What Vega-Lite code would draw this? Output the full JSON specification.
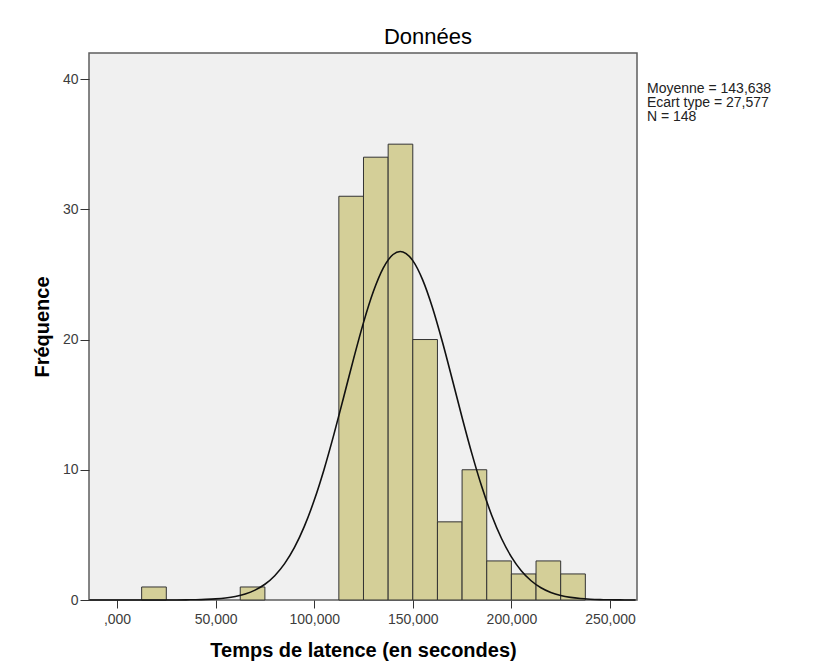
{
  "$schema": "https://vega.github.io/schema/vega-lite/v6.json",
  "width": 548,
  "height": 547,
  "autosize": {"type": "none"},
  "padding": {"left": 89, "top": 53, "right": 199, "bottom": 71},
  "background": "white",
  "config": {
    "font": "Liberation Sans",
    "view": {"stroke": "#5e5e5e", "strokeWidth": 1.5, "fill": "#f0f0f0"}
  },
  "title": {
    "text": "Données",
    "anchor": "middle",
    "frame": "group",
    "dx": 65,
    "dy": 19,
    "offset": 6,
    "baseline": "alphabetic",
    "fontSize": 22,
    "fontWeight": "normal",
    "color": "#000000",
    "font": "Liberation Sans"
  },
  "datasets": {
    "bins": [
      {"lo": 12500, "hi": 25000, "n": 1},
      {"lo": 62500, "hi": 75000, "n": 1},
      {"lo": 112500, "hi": 125000, "n": 31},
      {"lo": 125000, "hi": 137500, "n": 34},
      {"lo": 137500, "hi": 150000, "n": 35},
      {"lo": 150000, "hi": 162500, "n": 20},
      {"lo": 162500, "hi": 175000, "n": 6},
      {"lo": 175000, "hi": 187500, "n": 10},
      {"lo": 187500, "hi": 200000, "n": 3},
      {"lo": 200000, "hi": 212500, "n": 2},
      {"lo": 212500, "hi": 225000, "n": 3},
      {"lo": 225000, "hi": 237500, "n": 2}
    ],
    "curve": [
      {"x": -14000, "y": 0},
      {"x": 0, "y": 0},
      {"x": 10000, "y": 0},
      {"x": 20000, "y": 0.001},
      {"x": 30000, "y": 0.0055},
      {"x": 35000, "y": 0.012},
      {"x": 40000, "y": 0.023},
      {"x": 45000, "y": 0.045},
      {"x": 50000, "y": 0.084},
      {"x": 55000, "y": 0.153},
      {"x": 60000, "y": 0.269},
      {"x": 65000, "y": 0.459},
      {"x": 70000, "y": 0.757},
      {"x": 75000, "y": 1.209},
      {"x": 80000, "y": 1.867},
      {"x": 85000, "y": 2.79},
      {"x": 90000, "y": 4.037},
      {"x": 95000, "y": 5.65},
      {"x": 100000, "y": 7.652},
      {"x": 105000, "y": 10.028},
      {"x": 110000, "y": 12.717},
      {"x": 115000, "y": 15.606},
      {"x": 120000, "y": 18.533},
      {"x": 125000, "y": 21.297},
      {"x": 130000, "y": 23.68},
      {"x": 135000, "y": 25.479},
      {"x": 140000, "y": 26.528},
      {"x": 143638, "y": 26.763},
      {"x": 145000, "y": 26.727},
      {"x": 150000, "y": 26.057},
      {"x": 155000, "y": 24.582},
      {"x": 160000, "y": 22.441},
      {"x": 165000, "y": 19.824},
      {"x": 170000, "y": 16.945},
      {"x": 175000, "y": 14.016},
      {"x": 180000, "y": 11.219},
      {"x": 185000, "y": 8.69},
      {"x": 190000, "y": 6.512},
      {"x": 195000, "y": 4.723},
      {"x": 200000, "y": 3.315},
      {"x": 205000, "y": 2.251},
      {"x": 210000, "y": 1.479},
      {"x": 215000, "y": 0.941},
      {"x": 220000, "y": 0.579},
      {"x": 225000, "y": 0.345},
      {"x": 230000, "y": 0.199},
      {"x": 235000, "y": 0.111},
      {"x": 240000, "y": 0.06},
      {"x": 245000, "y": 0.031},
      {"x": 250000, "y": 0.016},
      {"x": 255000, "y": 0.0077},
      {"x": 260000, "y": 0.0036},
      {"x": 263000, "y": 0.002}
    ],
    "stats": [
      {"label": "Moyenne = 143,638\nEcart type = 27,577\nN = 148"}
    ]
  },
  "layer": [
    {
      "data": {"name": "bins"},
      "mark": {"type": "bar", "fill": "#d4cf98", "stroke": "#333333", "strokeWidth": 1},
      "encoding": {
        "x": {
          "field": "lo",
          "type": "quantitative",
          "scale": {"domain": [-14200, 263700], "nice": false, "zero": false},
          "axis": {
            "values": [0, 50000, 100000, 150000, 200000, 250000],
            "labelExpr": "datum.value == 0 ? ',000' : format(datum.value, ',')",
            "tickSize": 8,
            "tickColor": "#333333",
            "tickWidth": 1,
            "domain": false,
            "grid": false,
            "labelFontSize": 14,
            "labelColor": "#3c3c3c",
            "labelPadding": 4,
            "labelFlush": false,
            "labelOverlap": false,
            "title": "Temps de latence (en secondes)",
            "titleFontSize": 20,
            "titleFontWeight": "bold",
            "titleColor": "#000000",
            "titlePadding": 14
          }
        },
        "x2": {"field": "hi"},
        "y": {
          "field": "n",
          "type": "quantitative",
          "scale": {"domain": [0, 42], "nice": false},
          "axis": {
            "values": [0, 10, 20, 30, 40],
            "tickSize": 9,
            "tickColor": "#333333",
            "tickWidth": 1,
            "domain": false,
            "grid": false,
            "labelFontSize": 14,
            "labelColor": "#3c3c3c",
            "labelPadding": 2,
            "labelFlush": false,
            "title": "Fréquence",
            "titleFontSize": 20,
            "titleFontWeight": "bold",
            "titleColor": "#000000",
            "titlePadding": 10
          }
        },
        "y2": {"datum": 0}
      }
    },
    {
      "data": {"name": "curve"},
      "mark": {"type": "line", "color": "#111111", "strokeWidth": 1.6, "interpolate": "monotone"},
      "encoding": {
        "x": {"field": "x", "type": "quantitative"},
        "y": {"field": "y", "type": "quantitative"}
      }
    },
    {
      "data": {"name": "stats"},
      "mark": {"type": "text", "align": "left", "baseline": "alphabetic", "lineBreak": "\n", "lineHeight": 14, "fontSize": 14, "color": "#222222"},
      "encoding": {
        "x": {"datum": 268760, "type": "quantitative"},
        "y": {"datum": 38.94, "type": "quantitative"},
        "text": {"field": "label"}
      }
    }
  ]
}
